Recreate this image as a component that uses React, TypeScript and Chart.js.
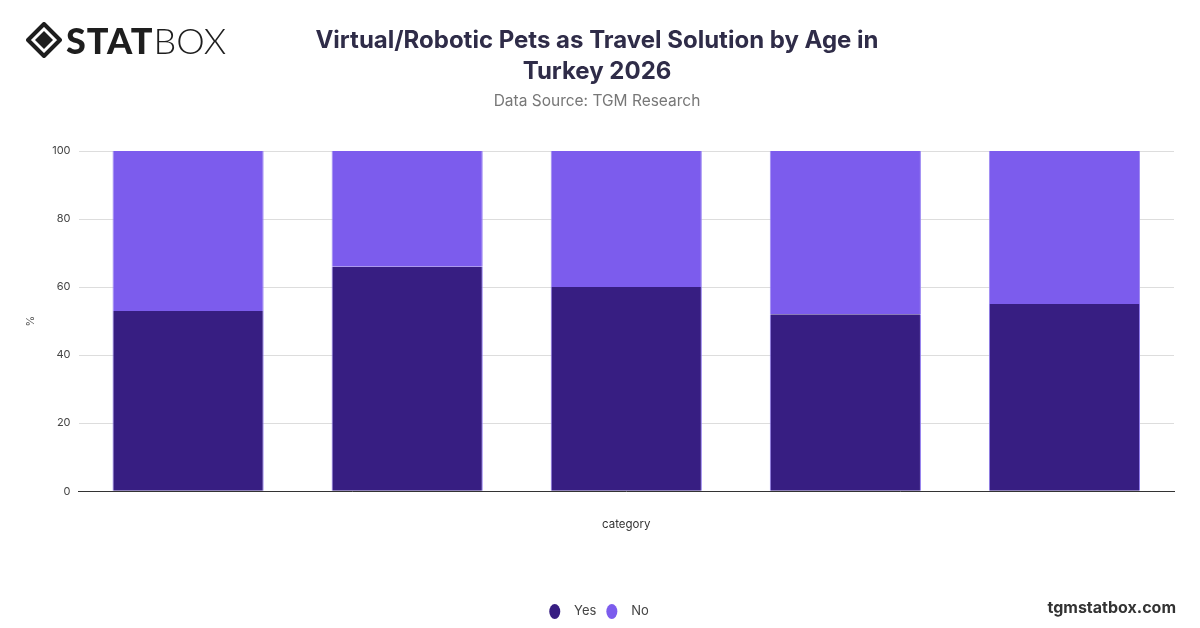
import React, { useEffect, useRef } from "react";
import { Chart, registerables } from "chart.js";

Chart.register(...registerables);

const categories = ["18-24", "25-34", "35-44", "45-54", "55+"];
const yesValues = [53, 66, 60, 52, 55];
const noValues = [47, 34, 40, 48, 45];
const seriesNames = ["Yes", "No"];
const yTicks = [0, 20, 40, 60, 80, 100];

const DARK = "#371e82";
const LIGHT = "#7c5ced";
const FONT = "Inter, 'Noto Sans', sans-serif";

export default function App() {
  const canvasRef = useRef<HTMLCanvasElement>(null);

  useEffect(() => {
    document.body.style.margin = "0";
    const ctx = canvasRef.current!.getContext("2d")!;
    const chart = new Chart(ctx, {
      type: "bar",
      data: {
        labels: categories,
        datasets: [
          {
            label: seriesNames[0],
            data: yesValues,
            backgroundColor: DARK,
            borderColor: "#8e78ee",
            borderWidth: { left: 1, right: 1, top: 0, bottom: 0 },
            categoryPercentage: 0.69,
            barPercentage: 1,
          },
          {
            label: seriesNames[1],
            data: noValues,
            backgroundColor: LIGHT,
            borderColor: "#9d89f3",
            borderWidth: { left: 1, right: 1, top: 0, bottom: 0 },
            categoryPercentage: 0.69,
            barPercentage: 1,
          },
        ],
      },
      options: {
        animation: false,
        responsive: false,
        maintainAspectRatio: false,
        layout: { padding: { top: 151, left: 24, right: 26, bottom: 0 } },
        plugins: {
          title: { display: false },
          tooltip: { enabled: false },
          legend: {
            position: "bottom",
            labels: {
              usePointStyle: true,
              pointStyle: "circle",
              boxHeight: 10.6,
              pointStyleWidth: 11,
              color: "#444",
              font: { family: FONT, size: 13 },
              padding: 10,
              generateLabels: (c: any) => {
                const items = Chart.defaults.plugins.legend.labels.generateLabels(c);
                return items.map((it: any) => ({ ...it, text: "  " + it.text, lineWidth: 0 }));
              },
            },
          },
        },
        scales: {
          x: {
            stacked: true,
            grid: { display: false, drawTicks: false },
            border: { display: true, color: "#333", width: 1 },
            ticks: { display: false },
            title: {
              display: true,
              text: "category",
              color: "#333",
              font: { family: FONT, size: 11.5 },
              padding: { top: 26, bottom: 64 },
            },
          },
          y: {
            stacked: true,
            min: 0,
            max: 100,
            afterBuildTicks: (axis: any) => {
              axis.ticks = yTicks.map((v) => ({ value: v }));
            },
            grid: { color: "#dddddd", drawTicks: false },
            border: { display: false },
            ticks: {
              color: "#444",
              padding: 8,
              font: { family: FONT, size: 11 },
            },
            title: {
              display: true,
              text: "%",
              color: "#555",
              font: { family: FONT, size: 11 },
              padding: { top: 0, bottom: 7 },
            },
          },
        },
      },
    });
    return () => chart.destroy();
  }, []);

  return (
    <div style={{ position: "fixed", left: 0, top: 0, width: 1200, height: 628, background: "#fff", overflow: "hidden" }}>
      <canvas ref={canvasRef} width={1200} height={628} style={{ position: "absolute", left: 0, top: 0, width: 1200, height: 628 }} />
      <div style={{ position: "absolute", left: 26, top: 22, display: "flex", alignItems: "center" }}>
        <svg width="36" height="36" viewBox="0 0 36 36" style={{ marginRight: 4 }}>
          <path d="M18 2 L34 18 L18 34 L2 18 Z" fill="none" stroke="#1e1e1e" strokeWidth="4" strokeLinejoin="round" />
          <path d="M18 9 L27 18 L18 27 L9 18 Z" fill="#1e1e1e" />
        </svg>
        <span style={{ fontFamily: "Lato, 'Noto Sans', sans-serif", fontWeight: 900, fontSize: 36, color: "#1e1e1e", letterSpacing: 1, lineHeight: "36px" }}>STAT</span>
        <span style={{ fontFamily: "Lato, 'Noto Sans', sans-serif", fontWeight: 300, fontSize: 36, color: "#1e1e1e", letterSpacing: 0, lineHeight: "36px" }}>BOX</span>
      </div>
      <div style={{ position: "absolute", left: 297, width: 600, top: 24, textAlign: "center", fontFamily: FONT, fontWeight: 700, fontSize: 24, lineHeight: "31px", color: "#2f2c48" }}>
        Virtual/Robotic Pets as Travel Solution by Age in Turkey 2026
      </div>
      <div style={{ position: "absolute", left: 297, width: 600, top: 91, textAlign: "center", fontFamily: FONT, fontSize: 15.5, color: "#777" }}>
        Data Source: TGM Research
      </div>
      <div style={{ position: "absolute", right: 24, top: 597, fontFamily: FONT, fontWeight: 700, fontSize: 16, color: "#333" }}>
        tgmstatbox.com
      </div>
    </div>
  );
}
